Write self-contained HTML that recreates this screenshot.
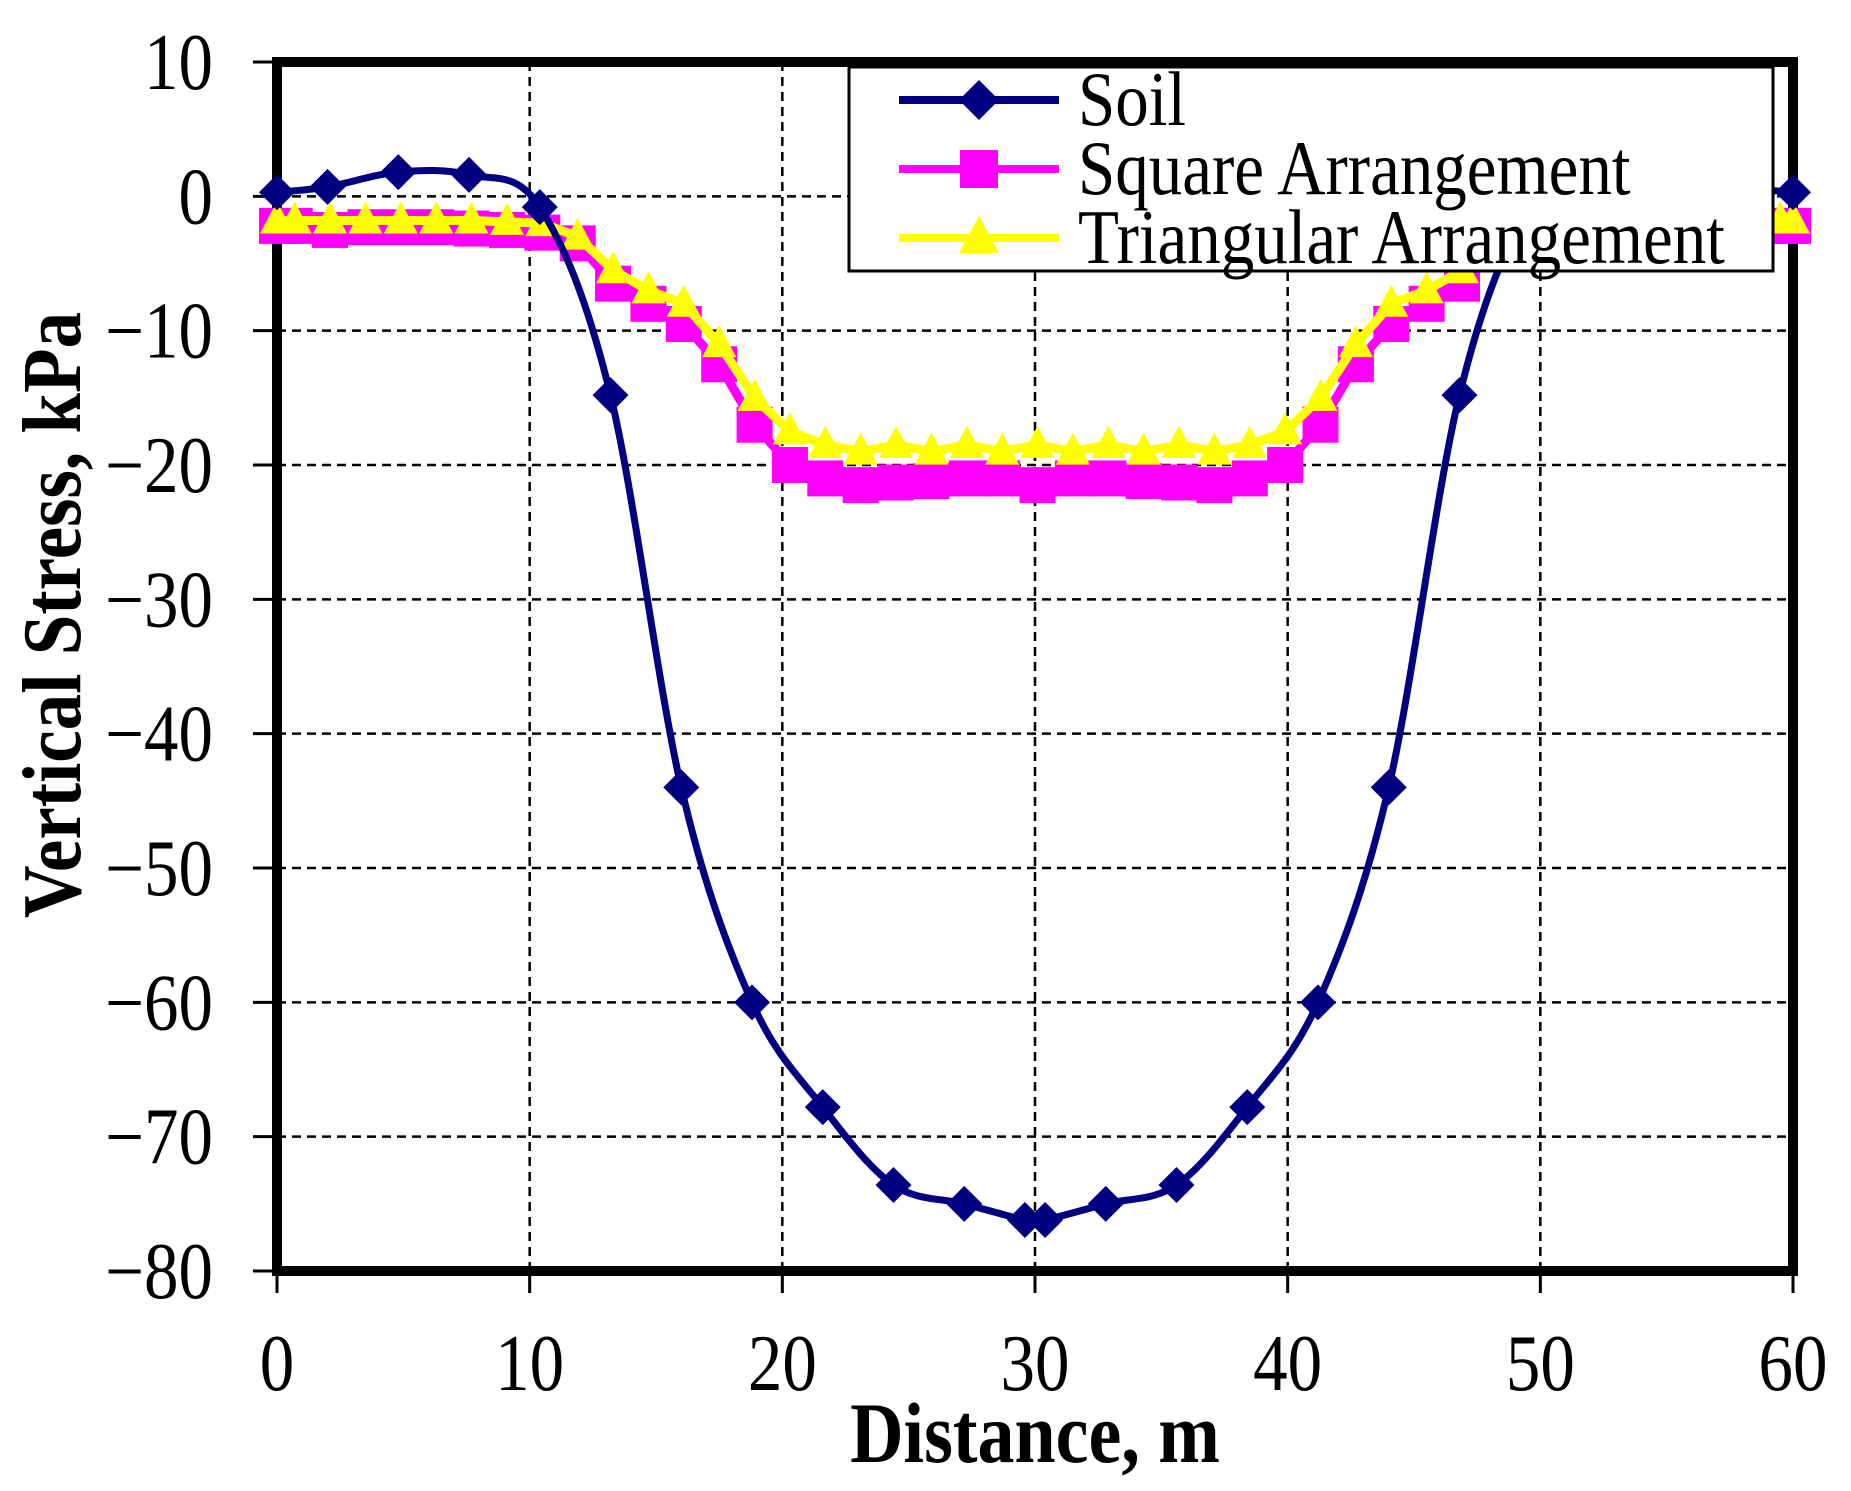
<!DOCTYPE html>
<html><head><meta charset="utf-8"><style>
html,body{margin:0;padding:0;background:#fff}
svg{display:block}
text{font-family:"Liberation Serif",serif;fill:#000}
</style></head><body>
<svg id="s" width="1851" height="1491" viewBox="0 0 1851 1491" xmlns="http://www.w3.org/2000/svg"></svg>
<script>
const X0=277,X1=1793,Y10=62,Ybot=1271;
const sx=x=>X0+(X1-X0)*x/60, sy=y=>Y10+(Ybot-Y10)*(10-y)/90;
const T=(x,y,s,t,a,extra,k)=>`<text transform="translate(${x},${y}) scale(1,${k||1.16})" font-size="${s}" text-anchor="${a||'start'}" ${extra||''}>${t}</text>`;
let h='';
for(let x=10;x<60;x+=10)h+=`<line x1="${sx(x)}" y1="${Y10}" x2="${sx(x)}" y2="${Ybot}" stroke="#000" stroke-width="2.5" stroke-dasharray="9,6"/>`;
for(let y=0;y>-80;y-=10)h+=`<line x1="${X0}" y1="${sy(y)}" x2="${X1}" y2="${sy(y)}" stroke="#000" stroke-width="2.5" stroke-dasharray="9,6"/>`;
for(let y=10;y>=-80;y-=10){h+=`<line x1="253" y1="${sy(y)}" x2="${X0}" y2="${sy(y)}" stroke="#000" stroke-width="3"/>`;
h+=T(213,sy(y)+27,69,y<0?'\u2212'+(-y):y,'end');}
for(let x=0;x<=60;x+=10){h+=`<line x1="${sx(x)}" y1="${Ybot}" x2="${sx(x)}" y2="${Ybot+22}" stroke="#000" stroke-width="3"/>`;
h+=T(sx(x),1390,69,x,'middle');}
h+=`<rect x="${X0}" y="${Y10}" width="${X1-X0}" height="${Ybot-Y10}" fill="none" stroke="#000" stroke-width="10"/>`;
const L=[[0,0.3],[2,0.7],[4.8,1.8],[7.6,1.6],[10.4,-0.8],[13.2,-14.8],[16,-44],[18.8,-60],[21.6,-67.8],[24.4,-73.6],[27.2,-75],[29.6,-76.2]];
const S=L.concat(L.slice().reverse().map(p=>[60-p[0],p[1]]));
const P=S.map(p=>[sx(p[0]),sy(p[1])]);
let d=`M${P[0][0]},${P[0][1]}`;
for(let i=0;i<P.length-1;i++){const p0=P[Math.max(0,i-1)],p1=P[i],p2=P[i+1],p3=P[Math.min(P.length-1,i+2)];
d+=` C${p1[0]+(p2[0]-p0[0])/6},${p1[1]+(p2[1]-p0[1])/6} ${p2[0]-(p3[0]-p1[0])/6},${p2[1]-(p3[1]-p1[1])/6} ${p2[0]},${p2[1]}`;}
const tri=[-1.8,-1.8,-1.8,-1.8,-1.8,-1.8,-1.9,-2,-3,-5.5,-7,-8,-11,-15,-17.5,-18.5,-19,-18.5,-19,-18.5,-19,-18.5];
const sq=[-2.2,-2.5,-2.3,-2.3,-2.3,-2.4,-2.5,-2.7,-3.5,-6.5,-8,-9.5,-12.5,-17,-20,-21,-21.5,-21.3,-21.2,-21,-21,-21.5];
const val=(a,i)=>a[Math.min(i,42-i)];
let sqP=[],trP=[];
for(let i=0;i<43;i++){const x=sx(0.7+1.4*i);sqP.push([x,sy(val(sq,i))]);trP.push([x,sy(val(tri,i))]);}
sqP.unshift([sx(0),sy(-2.2)]);sqP.push([sx(60),sy(-2.2)]);
trP.unshift([sx(0),sy(-1.8)]);trP.push([sx(60),sy(-1.8)]);
h+=`<polyline points="${sqP.map(p=>p.join(',')).join(' ')}" fill="none" stroke="#ff00ff" stroke-width="9"/>`;
sqP.forEach(p=>h+=`<rect x="${p[0]-18}" y="${p[1]-18}" width="36" height="36" fill="#ff00ff"/>`);
h+=`<polyline points="${trP.map(p=>p.join(',')).join(' ')}" fill="none" stroke="#ffff00" stroke-width="9"/>`;
trP.forEach(p=>h+=`<polygon points="${p[0]},${p[1]-19} ${p[0]+17},${p[1]+13} ${p[0]-17},${p[1]+13}" fill="#ffff00"/>`);
h+=`<path d="${d}" fill="none" stroke="#000080" stroke-width="7"/>`;
P.forEach(p=>h+=`<polygon points="${p[0]},${p[1]-18} ${p[0]+18},${p[1]} ${p[0]},${p[1]+18} ${p[0]-18},${p[1]}" fill="#000080"/>`);
h+=`<rect x="849" y="67" width="924" height="204" fill="#fff" stroke="#000" stroke-width="3"/>`;
const leg=[[100,'#000080','Soil','d'],[169,'#ff00ff','Square Arrangement','s'],[238,'#ffff00','Triangular Arrangement','t']];
leg.forEach(([y,c,t,m])=>{h+=`<line x1="899" y1="${y}" x2="1059" y2="${y}" stroke="${c}" stroke-width="8"/>`;
const x=979;
if(m=='d')h+=`<polygon points="${x},${y-20} ${x+20},${y} ${x},${y+20} ${x-20},${y}" fill="${c}"/>`;
if(m=='s')h+=`<rect x="${x-19}" y="${y-19}" width="38" height="38" fill="${c}"/>`;
if(m=='t')h+=`<polygon points="${x},${y-22} ${x+20},${y+15} ${x-20},${y+15}" fill="${c}"/>`;
h+=T(1078,y+25,67,t);});
h+=T(1035,1462,74,'Distance, m','middle','font-weight="bold"');
h+=`<text transform="translate(80,615) rotate(-90) scale(1,1.15)" font-size="73" font-weight="bold" text-anchor="middle">Vertical Stress, kPa</text>`;
document.getElementById('s').innerHTML=h;
</script>
</body></html>
